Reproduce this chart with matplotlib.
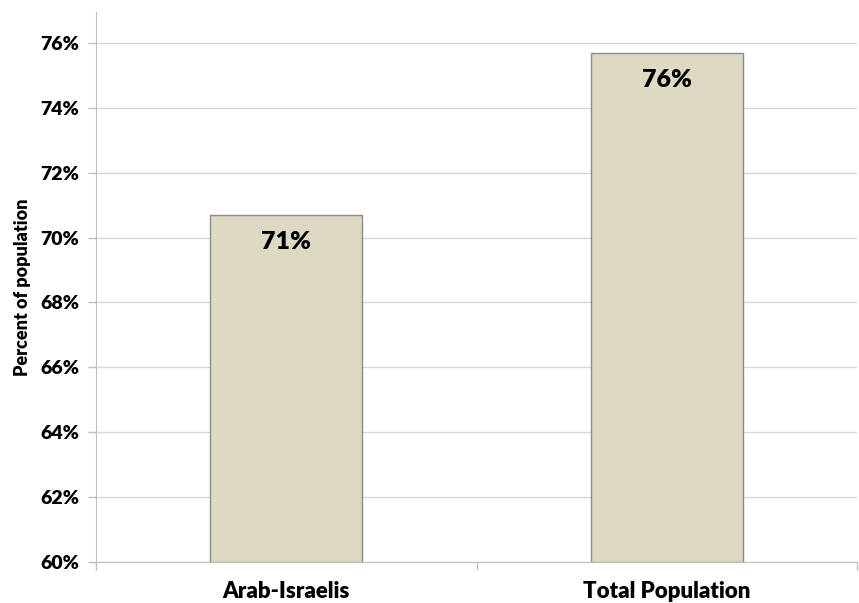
import matplotlib.pyplot as plt
import numpy as np

categories = ["Arab-Israelis", "Total Population"]
values = [70.7, 75.7]
yticks = [60, 62, 64, 66, 68, 70, 72, 74, 76]

plt.rcParams['font.family'] = ['Lato', 'DejaVu Sans']
plt.rcParams['font.weight'] = 'bold'

fig = plt.figure(figsize=(8.59, 6.03), dpi=100)
ax = fig.add_axes([96 / 859, 1 - 562 / 603, (857 - 96) / 859, (562 - 12) / 603])

x = np.arange(len(categories))
bars = ax.bar(x, [v - 60 for v in values], bottom=60, width=0.4,
              color="#ddd9c3", edgecolor="#8c8c8c", linewidth=1.0, zorder=3)

# value labels just inside the top of each bar
for b, v in zip(bars, values):
    ax.annotate(f"{v:.0f}%", (b.get_x() + b.get_width() / 2, v),
                xytext=(0, -27), textcoords="offset pixels",
                ha="center", va="center", fontsize=18, fontweight="heavy",
                color="black", zorder=4)

ax.set_xlim(-0.5, len(categories) - 0.5)
ax.set_ylim(60, 76.95)
ax.set_yticks(yticks)
ax.set_yticklabels([f"{t}%" for t in yticks], fontsize=14, fontweight="heavy")
ax.yaxis.grid(True, color="#d9d9d9", linewidth=1.0, zorder=0)

# category labels centred, ticks on the boundaries
ax.set_xticks(x)
ax.set_xticklabels(categories, fontsize=16, fontweight="heavy")
ax.tick_params(axis="x", length=0, pad=14)
ax.set_xticks(np.arange(len(categories) + 1) - 0.5, minor=True)
ax.tick_params(axis="x", which="minor", length=6, color="#bfbfbf", width=1)
ax.tick_params(axis="y", length=6, color="#bfbfbf", width=1, pad=6,
               direction="out")

for s in ["top", "right"]:
    ax.spines[s].set_visible(False)
ax.spines["left"].set_color("#bfbfbf")
ax.spines["bottom"].set_color("#bfbfbf")

ax.set_ylabel("Percent of population", fontsize=13, fontweight="heavy",
              labelpad=7)

fig.savefig("out.png", dpi=100)
